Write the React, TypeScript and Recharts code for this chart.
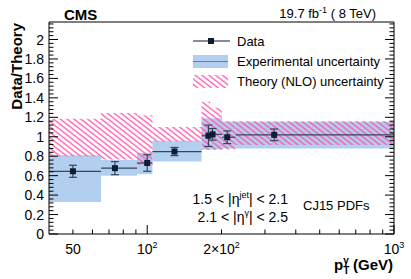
import React from 'react';
import { ComposedChart, XAxis, YAxis, Scatter, ErrorBar, ReferenceArea } from 'recharts';

if (typeof document !== 'undefined') document.body.style.margin = '0';

const FONT = '"Liberation Sans", Arial, Helvetica, sans-serif';
const BLUE = '#b2cff0';
const PINK = '#ff52a9';
const DARK = '#0d1d36';

// pT bins (GeV)
const binLow = [40, 65, 91, 105, 166, 180, 201, 228];
const binHigh = [65, 91, 105, 166, 180, 201, 228, 1000];

// experimental uncertainty band
const expLow = [0.33, 0.6, 0.615, 0.745, 0.87, 0.87, 0.88, 0.88];
const expHigh = [0.81, 0.76, 0.835, 0.96, 1.19, 1.19, 1.155, 1.155];

// theory (NLO) uncertainty band
const thLow = [0.8, 0.765, 0.71, 0.95, 0.865, 0.865, 0.87, 0.915];
const thHigh = [1.185, 1.245, 1.22, 1.1, 1.36, 1.3, 1.16, 1.16];

// data / theory points
const ptX = [50, 74, 100, 129, 177, 184, 211, 327];
const ptY = [0.645, 0.677, 0.73, 0.848, 1.01, 1.025, 0.995, 1.02];
const ptErr = [0.062, 0.067, 0.085, 0.042, 0.11, 0.06, 0.065, 0.06];

const xTicks = [50, 60, 70, 80, 90, 100, 200, 300, 400, 500, 600, 700, 800, 900, 1000];
const xMajor = [100, 1000];
const xLabels: Record<number, [string, string]> = {
  50: ['50', ''],
  100: ['10', '2'],
  200: ['2\u00d710', '2'],
  1000: ['10', '3'],
};
const yMajorLabels = ['0', '0.2', '0.4', '0.6', '0.8', '1', '1.2', '1.4', '1.6', '1.8', '2'];
const yTicks = Array.from({ length: 55 }, (_, i) => +(i * 0.04).toFixed(2));

const points = ptX.map((x, i) => ({
  x,
  y: ptY[i],
  ey: ptErr[i],
  ex: [x - binLow[i], binHigh[i] - x],
}));

const isMajorY = (v: number) => Math.abs(v * 5 - Math.round(v * 5)) < 1e-6;

function BottomTick(props: any) {
  const { x, y, payload } = props;
  const v = payload.value;
  const len = xMajor.includes(v) ? 9 : 4.5;
  const lab = xLabels[v];
  return (
    <g>
      <line x1={x} y1={y} x2={x} y2={y - len} stroke="#000" />
      {lab && (
        <text x={x} y={y + 20} textAnchor="middle" fontSize={14} fontFamily={FONT} fill="#000">
          {lab[0]}
          {lab[1] && (
            <tspan dy={-6} fontSize={9}>
              {lab[1]}
            </tspan>
          )}
        </text>
      )}
    </g>
  );
}

function TopTick(props: any) {
  const { x, y, payload } = props;
  const len = xMajor.includes(payload.value) ? 8 : 4;
  return <line x1={x} y1={y} x2={x} y2={y + len} stroke="#000" />;
}

function LeftTick(props: any) {
  const { x, y, payload } = props;
  const v = payload.value;
  const major = isMajorY(v);
  return (
    <g>
      <line x1={x} y1={y} x2={x + (major ? 9 : 4.5)} y2={y} stroke="#000" />
      {major && (
        <text x={x - 5} y={y} dy="0.36em" textAnchor="end" fontSize={14} fontFamily={FONT} fill="#000">
          {yMajorLabels[Math.round(v * 5)]}
        </text>
      )}
    </g>
  );
}

function RightTick(props: any) {
  const { x, y, payload } = props;
  const len = isMajorY(payload.value) ? 9 : 4.5;
  return <line x1={x} y1={y} x2={x - len} y2={y} stroke="#000" />;
}

function Square(props: any) {
  const { cx, cy } = props;
  return <rect x={cx - 3} y={cy - 3} width={6} height={6} fill={DARK} />;
}

export default function App() {
  return (
    <div style={{ width: 411, height: 279, background: '#fff' }}>
      <ComposedChart width={411} height={279} data={points} margin={{ top: 0, right: 0, bottom: 0, left: 0 }}>
        <defs>
          <pattern id="hatch" patternUnits="userSpaceOnUse" width={4.2} height={4.2} patternTransform="rotate(-52)">
            <line x1={2.1} y1={0} x2={2.1} y2={4.2} stroke={PINK} strokeWidth={1.3} />
          </pattern>
        </defs>
        <XAxis
          xAxisId="b"
          dataKey="x"
          type="number"
          scale="log"
          domain={[40, 1000]}
          allowDataOverflow
          ticks={xTicks}
          interval={0}
          tickSize={0}
          tickMargin={0}
          tickLine={false}
          tick={<BottomTick />}
          axisLine={{ stroke: '#000' }}
          height={45}
        />
        <XAxis
          xAxisId="t"
          orientation="top"
          type="number"
          scale="log"
          domain={[40, 1000]}
          allowDataOverflow
          ticks={xTicks}
          interval={0}
          tickSize={0}
          tickMargin={0}
          tickLine={false}
          tick={<TopTick />}
          axisLine={{ stroke: '#000' }}
          height={22}
        />
        <YAxis
          yAxisId="l"
          type="number"
          domain={[0, 2.18]}
          allowDataOverflow
          ticks={yTicks}
          interval={0}
          tickSize={0}
          tickMargin={0}
          tickLine={false}
          tick={<LeftTick />}
          axisLine={{ stroke: '#000' }}
          width={49}
        />
        <YAxis
          yAxisId="r"
          orientation="right"
          type="number"
          domain={[0, 2.18]}
          allowDataOverflow
          ticks={yTicks}
          interval={0}
          tickSize={0}
          tickMargin={0}
          tickLine={false}
          tick={<RightTick />}
          axisLine={{ stroke: '#000' }}
          width={17}
        />
        {binLow.map((lo, i) => (
          <ReferenceArea
            key={'e' + i}
            xAxisId="b"
            yAxisId="l"
            x1={lo}
            x2={binHigh[i]}
            y1={expLow[i]}
            y2={expHigh[i]}
            fill={BLUE}
            fillOpacity={1}
            stroke="none"
          />
        ))}
        {binLow.map((lo, i) => (
          <ReferenceArea
            key={'t' + i}
            xAxisId="b"
            yAxisId="l"
            x1={lo}
            x2={binHigh[i]}
            y1={thLow[i]}
            y2={thHigh[i]}
            fill="url(#hatch)"
            fillOpacity={1}
            stroke="none"
          />
        ))}
        <Scatter xAxisId="b" yAxisId="l" dataKey="y" shape={<Square />} isAnimationActive={false}>
          <ErrorBar dataKey="ex" direction="x" width={0} stroke="#34465a" strokeWidth={1.2} />
          <ErrorBar dataKey="ey" direction="y" width={4} stroke="#34465a" strokeWidth={1.2} />
        </Scatter>

        {/* legend */}
        <g fontFamily={FONT} fontSize={13} fill="#000">
          <line x1={193} y1={41} x2={230} y2={41} stroke={DARK} strokeWidth={1.2} />
          <rect x={208} y={38} width={6} height={6} fill={DARK} />
          <text x={237} y={46}>Data</text>
          <rect x={193} y={55} width={35} height={13} fill={BLUE} />
          <line x1={193} y1={61.5} x2={228} y2={61.5} stroke="#4b84c8" strokeWidth={1} />
          <text x={237} y={66}>Experimental uncertainty</text>
          <rect x={193} y={75} width={35} height={13} fill="url(#hatch)" />
          <text x={237} y={86}>Theory (NLO) uncertainty</text>
        </g>

        {/* labels */}
        <text x={64} y={20} fontFamily={FONT} fontSize={15} fontWeight="bold" fill="#000">
          CMS
        </text>
        <text x={376} y={18} textAnchor="end" fontFamily={FONT} fontSize={13} fill="#000">
          19.7 fb
          <tspan dy={-5} fontSize={9}>
            -1
          </tspan>
          <tspan dy={5}> ( 8 TeV)</tspan>
        </text>
        <text x={288} y={204} textAnchor="end" fontFamily={FONT} fontSize={14} fill="#000">
          {'1.5 < |\u03b7'}
          <tspan dy={-6} fontSize={9}>
            jet
          </tspan>
          <tspan dy={6}>{'| < 2.1'}</tspan>
        </text>
        <text x={288} y={222} textAnchor="end" fontFamily={FONT} fontSize={14} fill="#000">
          {'2.1 < |\u03b7'}
          <tspan dy={-6} fontSize={9}>
            {'\u03b3'}
          </tspan>
          <tspan dy={6}>{'| < 2.5'}</tspan>
        </text>
        <text x={303} y={209.5} fontFamily={FONT} fontSize={13} fill="#000">
          CJ15 PDFs
        </text>
        <text
          x={22}
          y={23}
          transform="rotate(-90 22 23)"
          textAnchor="end"
          fontFamily={FONT}
          fontSize={15}
          fontWeight="bold"
          fill="#000"
        >
          Data/Theory
        </text>
        <text x={393} y={270} textAnchor="end" fontFamily={FONT} fontSize={15} fontWeight="bold" fill="#000">
          p
          <tspan dy={3.5} fontSize={10}>
            T
          </tspan>
          <tspan dx={-6} dy={-10} fontSize={10}>
            {'\u03b3'}
          </tspan>
          <tspan dy={6.5}> (GeV)</tspan>
        </text>
      </ComposedChart>
    </div>
  );
}
